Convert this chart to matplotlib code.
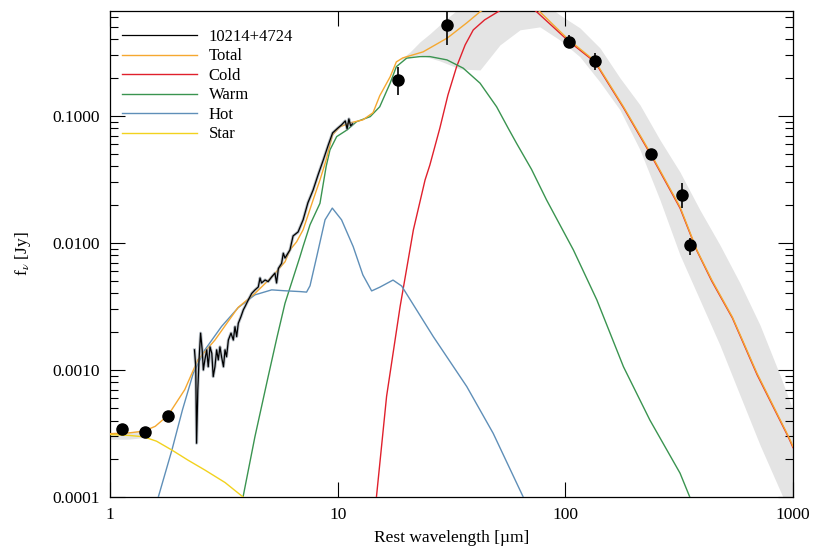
import numpy as np
import matplotlib
matplotlib.use('Agg')
import matplotlib.pyplot as plt
from matplotlib.ticker import LogLocator, FixedLocator, FixedFormatter, NullLocator

plt.rcParams['font.family'] = ['Liberation Serif', 'DejaVu Serif']
plt.rcParams['mathtext.fontset'] = 'stix'

# Photometry (rest wavelength [um], flux [Jy], error-bar ends)
pt_wl = [1.13, 1.42, 1.80, 18.4, 30.2, 104, 135, 238, 325, 352]
pt_fl = [3.4e-4, 3.25e-4, 4.35e-4, 0.19, 0.52, 0.38, 0.27, 0.050, 0.0239, 0.0096]
pt_lo = [3.3e-4, 3.15e-4, 4.2e-4, 0.146, 0.362, 0.343, 0.230, 0.047, 0.0189, 0.0080]
pt_hi = [3.5e-4, 3.35e-4, 4.5e-4, 0.243, 0.658, 0.435, 0.312, 0.054, 0.0296, 0.0109]

# Spectrum
spec_wl = [2.35, 2.38, 2.40, 2.43, 2.46, 2.50, 2.54, 2.57, 2.61, 2.66, 2.70, 2.75, 2.80,
           2.84, 2.89, 2.94, 2.99, 3.04, 3.09, 3.15, 3.20, 3.25, 3.31, 3.40, 3.48, 3.54,
           3.60, 3.66, 3.76, 3.85, 3.92, 4.05, 4.19, 4.33, 4.48, 4.56, 4.63, 4.80, 4.95,
           5.13, 5.30, 5.39, 5.49, 5.67, 5.77, 5.87, 6.17, 6.37, 6.7, 7.05, 7.4, 7.8, 8.2,
           8.65, 9.1, 9.5, 10.0, 10.4, 10.8, 11.0, 11.2, 11.4, 11.6]
spec_fl = [1.44e-3, 1.06e-3, 2.65e-4, 6.96e-4, 1.2e-3, 1.95e-3, 1.44e-3, 1.0e-3, 1.2e-3,
           1.44e-3, 1.06e-3, 1.52e-3, 1.35e-3, 8.86e-4, 1.06e-3, 1.44e-3, 1.2e-3, 1.52e-3,
           1.27e-3, 1.06e-3, 1.44e-3, 1.27e-3, 1.72e-3, 1.95e-3, 1.72e-3, 2.19e-3, 1.83e-3,
           2.33e-3, 2.63e-3, 2.97e-3, 3.16e-3, 3.56e-3, 4.0e-3, 4.26e-3, 4.5e-3, 5.3e-3,
           4.84e-3, 5.11e-3, 4.96e-3, 5.4e-3, 5.78e-3, 4.84e-3, 6.3e-3, 6.9e-3, 8.3e-3,
           7.6e-3, 8.8e-3, 0.01135, 0.0122, 0.0152, 0.0207, 0.0261, 0.0343, 0.0451, 0.0592,
           0.0735, 0.080, 0.085, 0.0913, 0.079, 0.0947, 0.0834, 0.0865]

# Model components
total_wl = [1.0, 1.22, 1.41, 1.58, 1.80, 2.13, 2.43, 2.89, 3.65, 4.33, 5.14, 5.87, 6.17,
            6.6, 7.05, 7.8, 8.36, 8.9, 9.5, 10.23, 11.3, 12.9, 14.3, 15.3, 17.0, 18.1, 19.3,
            23.7, 30.3, 36.9, 42.2, 50.0, 62.0, 77.3, 103, 135, 180, 238, 319, 378, 440,
            542, 695, 955, 1000]
total_fl = [3.15e-4, 3.2e-4, 3.3e-4, 3.6e-4, 4.4e-4, 7.0e-4, 1.2e-3, 1.72e-3, 3.1e-3,
            4.0e-3, 5.4e-3, 7.1e-3, 8.8e-3, 0.0102, 0.0127, 0.0218, 0.0313, 0.045, 0.071,
            0.082, 0.088, 0.093, 0.106, 0.144, 0.203, 0.266, 0.286, 0.319, 0.41, 0.54,
            0.66, 0.80, 0.93, 0.66, 0.40, 0.27, 0.118, 0.050, 0.0192, 0.0088, 0.0051,
            0.0026, 9.4e-4, 3.0e-4, 2.5e-4]

cold_wl = [14.2, 14.8, 16.4, 18.8, 21.5, 24.2, 25.4, 28.1, 30.5, 33.3, 36.3, 39.4, 44.2,
           50.7, 62.0, 74.8, 103, 135, 180, 238, 319, 378, 440, 542, 695, 955, 1000]
cold_fl = [3e-5, 1e-4, 6.2e-4, 3.15e-3, 0.01265, 0.0313, 0.041, 0.080, 0.146, 0.244, 0.362,
           0.475, 0.57, 0.662, 0.86, 0.66, 0.39, 0.265, 0.116, 0.049, 0.0188, 0.0087,
           0.0050, 0.00256, 9.2e-4, 2.95e-4, 2.45e-4]

warm_wl = [3.6, 3.84, 4.33, 4.95, 5.41, 5.87, 6.83, 7.05, 7.56, 8.36, 8.9, 9.25, 9.9, 11.0,
           12.1, 13.9, 15.3, 17.0, 18.1, 20.1, 23.0, 25.4, 30.2, 35.6, 42.2, 49.9, 56.1,
           61.0, 71.0, 82.7, 108.5, 137.5, 180, 235, 319, 352, 380]
warm_fl = [5e-5, 1e-4, 2.98e-4, 8.86e-4, 1.8e-3, 3.35e-3, 7.8e-3, 9.4e-3, 0.0139, 0.0205,
           0.040, 0.054, 0.0687, 0.0776, 0.090, 0.0987, 0.118, 0.181, 0.244, 0.285, 0.293,
           0.293, 0.276, 0.2375, 0.181, 0.118, 0.080, 0.061, 0.038, 0.0218, 0.0088,
           0.00356, 1.06e-3, 4.04e-4, 1.54e-4, 1e-4, 7e-5]

hot_wl = [1.55, 1.63, 1.87, 2.08, 2.32, 2.61, 3.09, 3.66, 4.33, 5.13, 5.87, 6.83, 7.3, 7.56,
          8.09, 8.8, 9.47, 10.4, 11.7, 12.9, 14.1, 15.3, 17.5, 19.1, 26.3, 36.9, 48.2,
          65.3, 70]
hot_fl = [6e-5, 1e-4, 2.34e-4, 4.84e-4, 9.4e-4, 1.44e-3, 2.2e-3, 3.1e-3, 3.9e-3, 4.27e-3,
          4.2e-3, 4.14e-3, 4.1e-3, 4.6e-3, 7.8e-3, 0.0152, 0.0188, 0.0152, 9.35e-3, 5.6e-3,
          4.19e-3, 4.48e-3, 5.1e-3, 4.58e-3, 1.83e-3, 7.4e-4, 3.17e-4, 1.0e-4, 7e-5]

star_wl = [1.0, 1.22, 1.40, 1.6, 1.87, 2.2, 2.61, 3.2, 3.84, 4.1]
star_fl = [3.1e-4, 3.05e-4, 2.98e-4, 2.75e-4, 2.34e-4, 1.95e-4, 1.63e-4, 1.3e-4, 1.0e-4, 9e-5]

# Uncertainty envelope of the total model
nir_band_wl = [1.0, 1.2, 1.45]
nir_band_lo = [2.85e-4, 2.85e-4, 2.95e-4]
nir_band_hi = [3.2e-4, 3.25e-4, 3.35e-4]

band_wl = [18.78, 20.8, 23.0, 25.4, 28.1, 31.1, 34.4, 42.2, 51.6, 63.2, 77.3, 94.6, 115.9,
           141.9, 173.8, 212.8, 260.4, 318.7, 390, 477.5, 584.5, 716, 876, 1000]
band_lo = [0.276, 0.292, 0.302, 0.286, 0.271, 0.252, 0.234, 0.230, 0.362, 0.476, 0.502,
           0.396, 0.292, 0.185, 0.1115, 0.054, 0.0218, 0.00805, 0.00356, 1.57e-3,
           6.35e-4, 2.57e-4, 1.13e-4, 6.6e-5]
band_hi = [0.276, 0.319, 0.383, 0.443, 0.521, 0.612, 0.708, 0.897, 0.98, 0.98, 0.82, 0.624,
           0.493, 0.343, 0.199, 0.122, 0.0647, 0.0362, 0.0182, 0.00964, 0.00484, 0.00226,
           9.14e-4, 4.84e-4]

fig = plt.figure(figsize=(8.21, 5.48), dpi=100)
ax = fig.add_axes([0.134, 0.0931, 0.8319, 0.8869])
ax.set_xscale('log')
ax.set_yscale('log')

ax.fill_between(nir_band_wl, nir_band_lo, nir_band_hi, color='#e4e4e4', lw=0, zorder=1)
ax.fill_between(band_wl, band_lo, band_hi, color='#e4e4e4', lw=0, zorder=1)

lw = 1.0
ax.plot(spec_wl, spec_fl, color='#8a96a3', lw=2.2, alpha=0.6, zorder=6)
h_spec, = ax.plot(spec_wl, spec_fl, color='black', lw=0.9, zorder=7, label='10214+4724')
h_cold, = ax.plot(cold_wl, cold_fl, color='#e0202c', lw=lw, zorder=3, label='Cold')
h_warm, = ax.plot(warm_wl, warm_fl, color='#3a9450', lw=lw, zorder=3, label='Warm')
h_hot, = ax.plot(hot_wl, hot_fl, color='#5f8fb8', lw=lw, zorder=3, label='Hot')
h_star, = ax.plot(star_wl, star_fl, color='#f2d21e', lw=lw, zorder=3, label='Star')
h_tot, = ax.plot(total_wl, total_fl, color='#f5a830', lw=lw, zorder=5, label='Total')

pt_fl_arr = np.array(pt_fl)
yerr = [pt_fl_arr - np.array(pt_lo), np.array(pt_hi) - pt_fl_arr]
ax.errorbar(pt_wl, pt_fl, yerr=yerr, fmt='o', color='black', ms=8, elinewidth=1.2,
            capsize=0, zorder=8)

ax.set_xlim(1, 1000)
ax.set_ylim(1e-4, 0.67)

ax.xaxis.set_major_locator(FixedLocator([1, 10, 100, 1000]))
ax.xaxis.set_major_formatter(FixedFormatter(['1', '10', '100', '1000']))
ax.xaxis.set_minor_locator(NullLocator())
ax.yaxis.set_major_locator(FixedLocator([1e-4, 1e-3, 1e-2, 1e-1]))
ax.yaxis.set_major_formatter(FixedFormatter(['0.0001', '0.0010', '0.0100', '0.1000']))
ax.yaxis.set_minor_locator(LogLocator(base=10, subs=np.arange(2, 10), numticks=20))

ax.tick_params(which='both', direction='in', top=True, right=True, labelsize=12.5,
               color='black', width=0.8)
ax.tick_params(which='major', length=11, pad=7)
ax.tick_params(which='minor', length=6)
for s in ax.spines.values():
    s.set_linewidth(0.9)

ax.set_xlabel('Rest wavelength [µm]', fontsize=12.5, labelpad=5)
ax.set_ylabel(r'f$_\nu$ [Jy]', fontsize=12.5, labelpad=14)

ax.legend(handles=[h_spec, h_tot, h_cold, h_warm, h_hot, h_star], loc='upper left',
          bbox_to_anchor=(0.0176, 0.963), frameon=False, fontsize=12, handlelength=4.5,
          handletextpad=0.7, labelspacing=0.21, borderpad=0, borderaxespad=0)

fig.savefig('out.png', dpi=100)
